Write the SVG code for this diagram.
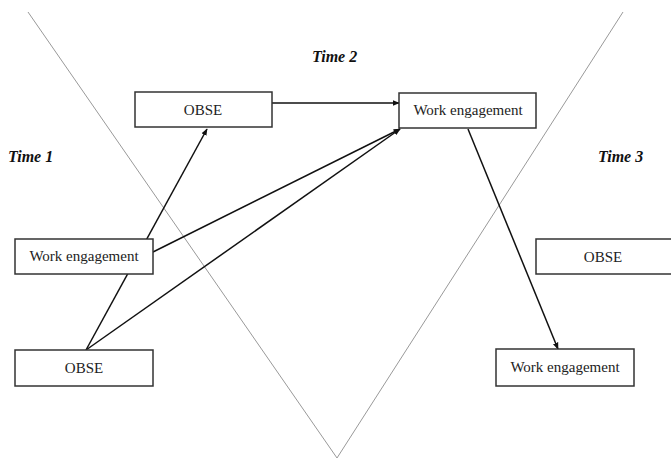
<svg xmlns="http://www.w3.org/2000/svg" width="671" height="461" viewBox="0 0 671 461">
<style>
.box{fill:#fff;stroke:#333;stroke-width:1.5}
.lbl{font-family:"Liberation Serif","Times New Roman",serif;font-size:15px;fill:#222;text-anchor:middle}
.time{font-family:"Liberation Serif","Times New Roman",serif;font-size:16px;font-weight:bold;font-style:italic;fill:#111}
.div{stroke:#999;stroke-width:1;fill:none}
.arr{stroke:#111;stroke-width:1.5;fill:none;marker-end:url(#ah)}
</style>
<defs>
<marker id="ah" viewBox="0 0 10 10" refX="9" refY="5" markerWidth="7" markerHeight="7" markerUnits="userSpaceOnUse" orient="auto">
<path d="M0,1 L10,5 L0,9 Z" fill="#111"/>
</marker>
</defs>
<rect width="671" height="461" fill="#fff"/>
<g id="dividers">
<polyline class="div" points="28,12 337,458 623,12"/>
</g>
<g id="time-labels">
<text class="time" x="8" y="162">Time 1</text>
<text class="time" x="312" y="62">Time 2</text>
<text class="time" x="598" y="162">Time 3</text>
</g>
<g id="connectors">
<line class="arr" x1="86" y1="350" x2="207" y2="129"/>
<line class="arr" x1="86" y1="350" x2="400" y2="129"/>
<line class="arr" x1="153" y1="252" x2="400" y2="129"/>
<line class="arr" x1="272" y1="103" x2="399" y2="103"/>
<line class="arr" x1="468" y1="129" x2="558" y2="349"/>
</g>
<g id="t1-work-engagement">
<rect class="box" x="15" y="239" width="138" height="35"/>
<text class="lbl" x="84" y="261">Work engagement</text>
</g>
<g id="t1-obse">
<rect class="box" x="15" y="350" width="138" height="36"/>
<text class="lbl" x="84" y="373">OBSE</text>
</g>
<g id="t2-obse">
<rect class="box" x="135" y="92" width="137" height="35"/>
<text class="lbl" x="203" y="115">OBSE</text>
</g>
<g id="t2-work-engagement">
<rect class="box" x="399" y="93" width="137" height="35"/>
<text class="lbl" x="468" y="115">Work engagement</text>
</g>
<g id="t3-obse">
<rect class="box" x="536" y="239" width="140" height="35"/>
<text class="lbl" x="603" y="262">OBSE</text>
</g>
<g id="t3-work-engagement">
<rect class="box" x="496" y="349" width="138" height="37"/>
<text class="lbl" x="565" y="372">Work engagement</text>
</g>
</svg>
